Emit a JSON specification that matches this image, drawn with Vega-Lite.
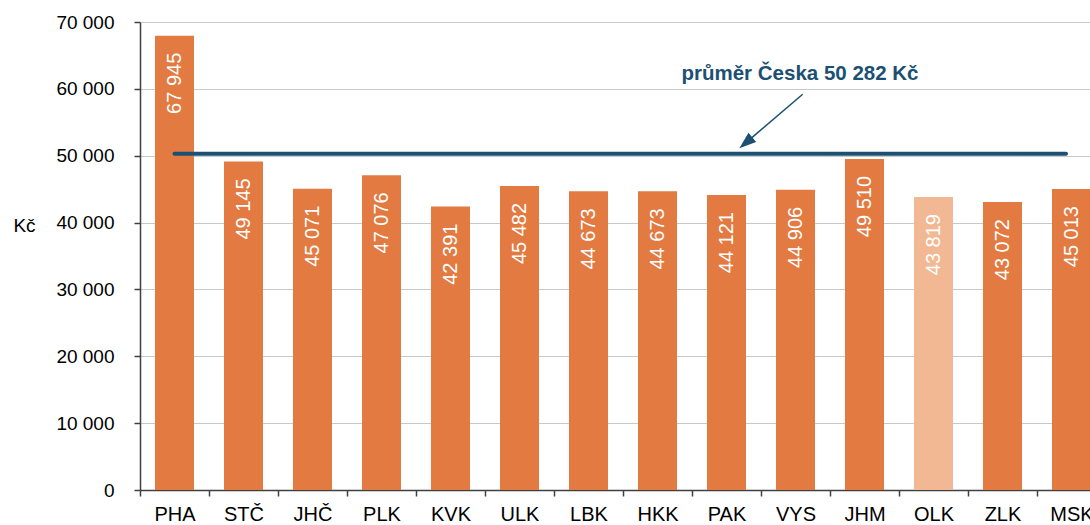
{
  "$schema": "https://vega.github.io/schema/vega-lite/v6.json",
  "autosize": {"type": "none"},
  "padding": {"left": 140, "top": 22, "right": 0, "bottom": 35},
  "width": 966,
  "height": 468,
  "config": {
    "locale": {"number": {"decimal": ",", "thousands": " ", "grouping": [3], "currency": ["", " Kč"]}},
    "view": {"stroke": null},
    "font": "Liberation Sans",
    "axis": {"labelFont": "Liberation Sans", "titleFont": "Liberation Sans", "labelColor": "#000000", "titleColor": "#000000"}
  },
  "resolve": {"scale": {"x": "independent"}},
  "layer": [
    {
      "data": {"values": [
        {"kraj": "PHA", "mzda": 67945, "zvyraznit": "ne"},
        {"kraj": "STČ", "mzda": 49145, "zvyraznit": "ne"},
        {"kraj": "JHČ", "mzda": 45071, "zvyraznit": "ne"},
        {"kraj": "PLK", "mzda": 47076, "zvyraznit": "ne"},
        {"kraj": "KVK", "mzda": 42391, "zvyraznit": "ne"},
        {"kraj": "ULK", "mzda": 45482, "zvyraznit": "ne"},
        {"kraj": "LBK", "mzda": 44673, "zvyraznit": "ne"},
        {"kraj": "HKK", "mzda": 44673, "zvyraznit": "ne"},
        {"kraj": "PAK", "mzda": 44121, "zvyraznit": "ne"},
        {"kraj": "VYS", "mzda": 44906, "zvyraznit": "ne"},
        {"kraj": "JHM", "mzda": 49510, "zvyraznit": "ne"},
        {"kraj": "OLK", "mzda": 43819, "zvyraznit": "ano"},
        {"kraj": "ZLK", "mzda": 43072, "zvyraznit": "ne"},
        {"kraj": "MSK", "mzda": 45013, "zvyraznit": "ne"}
      ]},
      "encoding": {
        "x": {
          "field": "kraj", "type": "nominal", "sort": null,
          "scale": {"paddingInner": 0, "paddingOuter": 0},
          "axis": {
            "title": null, "labelAngle": 0, "labelFontSize": 20, "labelPadding": 8,
            "tickBand": "extent", "tickSize": 6, "tickColor": "#404040", "tickWidth": 1.5,
            "domainColor": "#404040", "domainWidth": 1.5, "grid": false
          }
        },
        "y": {
          "field": "mzda", "type": "quantitative",
          "scale": {"domain": [0, 70000], "nice": false},
          "axis": {
            "title": "Kč", "titleAngle": 0, "titleX": -116, "titleY": 203,
            "titleAlign": "center", "titleBaseline": "middle", "titleFontSize": 19, "titleFontWeight": "normal",
            "values": [0, 10000, 20000, 30000, 40000, 50000, 60000, 70000],
            "format": ",d", "labelFontSize": 19, "labelPadding": 20,
            "tickSize": 6, "tickColor": "#404040", "tickWidth": 1.5,
            "domainColor": "#404040", "domainWidth": 1.5,
            "grid": true, "gridColor": "#c8c8c8", "gridWidth": 1.2
          }
        }
      },
      "layer": [
        {
          "mark": {"type": "bar", "width": {"band": 0.565}},
          "encoding": {
            "color": {
              "field": "zvyraznit", "type": "nominal",
              "scale": {"domain": ["ne", "ano"], "range": ["#E27A41", "#F2B893"]},
              "legend": null
            }
          }
        },
        {
          "mark": {"type": "text", "angle": 270, "align": "right", "baseline": "middle", "dx": -17, "fontSize": 20, "color": "#ffffff"},
          "encoding": {"text": {"field": "mzda", "type": "quantitative", "format": ",d"}}
        }
      ]
    },
    {
      "data": {"values": [{"x1": 0.5, "x2": 13.42, "prumer": 50282}]},
      "mark": {"type": "rule", "color": "#1C5073", "strokeWidth": 4, "strokeCap": "round"},
      "encoding": {
        "x": {"field": "x1", "type": "quantitative", "scale": {"domain": [0, 14], "nice": false, "zero": false}, "axis": null},
        "x2": {"field": "x2"},
        "y": {"field": "prumer", "type": "quantitative"}
      }
    },
    {
      "data": {"values": [{"x1": 9.604, "y1": 59186, "x2": 8.851, "y2": 52560}]},
      "mark": {"type": "rule", "color": "#1C5073", "strokeWidth": 1.5},
      "encoding": {
        "x": {"field": "x1", "type": "quantitative", "scale": {"domain": [0, 14], "nice": false, "zero": false}, "axis": null},
        "x2": {"field": "x2"},
        "y": {"field": "y1", "type": "quantitative"},
        "y2": {"field": "y2"}
      }
    },
    {
      "data": {"values": [{"x": 8.686, "y": 51109}]},
      "mark": {"type": "point", "shape": "M0,0L0.35,1L-0.35,1Z", "size": 1156, "angle": 229.9, "filled": true, "color": "#1C5073", "opacity": 1},
      "encoding": {
        "x": {"field": "x", "type": "quantitative", "scale": {"domain": [0, 14], "nice": false, "zero": false}, "axis": null},
        "y": {"field": "y", "type": "quantitative"}
      }
    },
    {
      "data": {"values": [{"x": 9.565, "y": 61325, "popis": "průměr Česka 50 282 Kč"}]},
      "mark": {"type": "text", "align": "center", "baseline": "alphabetic", "fontSize": 20.5, "fontWeight": "bold", "color": "#1C5073"},
      "encoding": {
        "x": {"field": "x", "type": "quantitative", "scale": {"domain": [0, 14], "nice": false, "zero": false}, "axis": null},
        "y": {"field": "y", "type": "quantitative"},
        "text": {"field": "popis"}
      }
    }
  ]
}
